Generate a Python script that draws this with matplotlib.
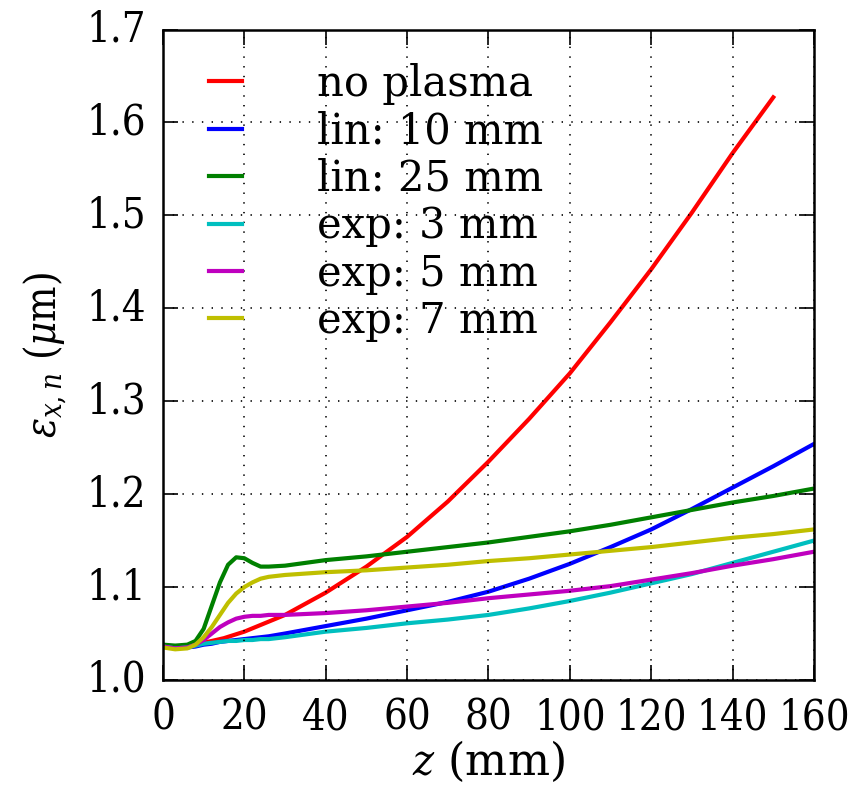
import matplotlib
matplotlib.use("Agg")
import matplotlib.pyplot as plt

# emittance along z for the different plasma ramps
z_red = [0, 3, 6, 10, 15, 20, 30, 40, 50, 60, 70, 80, 90, 100, 110, 120, 130, 140, 150]
eps_red = [1.037, 1.035, 1.036, 1.040, 1.045, 1.052, 1.070, 1.094, 1.122, 1.154, 1.192,
           1.235, 1.281, 1.330, 1.385, 1.442, 1.503, 1.567, 1.627]

z_all = [0, 3, 6, 8, 10, 12, 14, 16, 18, 20, 22, 24, 26, 30, 40, 50, 60, 70, 80, 90,
         100, 110, 120, 130, 140, 150, 160]
eps_lin10 = [1.037, 1.035, 1.035, 1.036, 1.038, 1.039, 1.041, 1.042, 1.043, 1.044, 1.045,
             1.046, 1.047, 1.050, 1.058, 1.066, 1.075, 1.084, 1.095, 1.109, 1.125, 1.143,
             1.162, 1.184, 1.207, 1.230, 1.254]
eps_lin25 = [1.038, 1.037, 1.038, 1.042, 1.055, 1.080, 1.105, 1.124, 1.132, 1.131, 1.126,
             1.122, 1.122, 1.123, 1.129, 1.133, 1.138, 1.143, 1.148, 1.154, 1.160, 1.167,
             1.175, 1.183, 1.191, 1.198, 1.206]
eps_exp3 = [1.036, 1.034, 1.035, 1.037, 1.039, 1.040, 1.041, 1.042, 1.042, 1.043, 1.043,
            1.044, 1.044, 1.046, 1.052, 1.056, 1.061, 1.065, 1.070, 1.077, 1.085, 1.094,
            1.104, 1.114, 1.126, 1.138, 1.150]
eps_exp5 = [1.036, 1.034, 1.035, 1.038, 1.043, 1.050, 1.057, 1.062, 1.066, 1.068, 1.069,
            1.069, 1.070, 1.070, 1.072, 1.075, 1.079, 1.083, 1.088, 1.092, 1.096, 1.101,
            1.108, 1.115, 1.123, 1.130, 1.138]
eps_exp7 = [1.035, 1.033, 1.034, 1.038, 1.046, 1.057, 1.070, 1.083, 1.093, 1.100, 1.105,
            1.109, 1.111, 1.113, 1.116, 1.118, 1.121, 1.124, 1.128, 1.131, 1.135, 1.139,
            1.143, 1.148, 1.153, 1.157, 1.162]

labels = ["no plasma", "lin: 10 mm", "lin: 25 mm", "exp: 3 mm", "exp: 5 mm", "exp: 7 mm"]
colors = ["r", "b", "g", "c", "m", "y"]

plt.style.use("classic")
plt.rcParams["font.family"] = "serif"
plt.rcParams["font.serif"] = ["DejaVu Serif"]
plt.rcParams["font.stretch"] = "condensed"
plt.rcParams["mathtext.fontset"] = "dejavuserif"
plt.rcParams["font.size"] = 30

fig = plt.figure(figsize=(8.65, 7.87), dpi=100, facecolor="white")
ax = fig.add_axes([0.1884, 0.136, 0.7526, 0.8265])

ax.plot(z_red, eps_red, color=colors[0], lw=3, label=labels[0])
series = [eps_lin10, eps_lin25, eps_exp3, eps_exp5, eps_exp7]
for i, eps in enumerate(series):
    ax.plot(z_all, eps, color=colors[i + 1], lw=3, label=labels[i + 1])

ax.set_xlim(0, 160)
ax.set_ylim(1.0, 1.7)
ax.set_xticks(range(0, 161, 20))
ax.set_yticks([1.0, 1.1, 1.2, 1.3, 1.4, 1.5, 1.6, 1.7])
ax.grid(True, color="k", linestyle=(0, (1, 6)), linewidth=1.2)
for sp in ax.spines.values():
    sp.set_linewidth(1.8)
ax.tick_params(direction="in", length=11, width=1.2, pad=12)

ax.set_xlabel(r"$z$ (mm)", labelpad=0, fontsize=32, fontstretch="normal")
ax.set_ylabel(r"$\varepsilon_{x,n}$ ($\mu$m)", labelpad=12)

leg = ax.legend(loc="upper left", frameon=False, handlelength=1.4,
                handletextpad=1.5, labelspacing=0.13, borderaxespad=0.4, numpoints=2,
                prop={"family": "serif", "size": 30, "stretch": "normal"})

fig.savefig("out.png", dpi=100, facecolor="white")
